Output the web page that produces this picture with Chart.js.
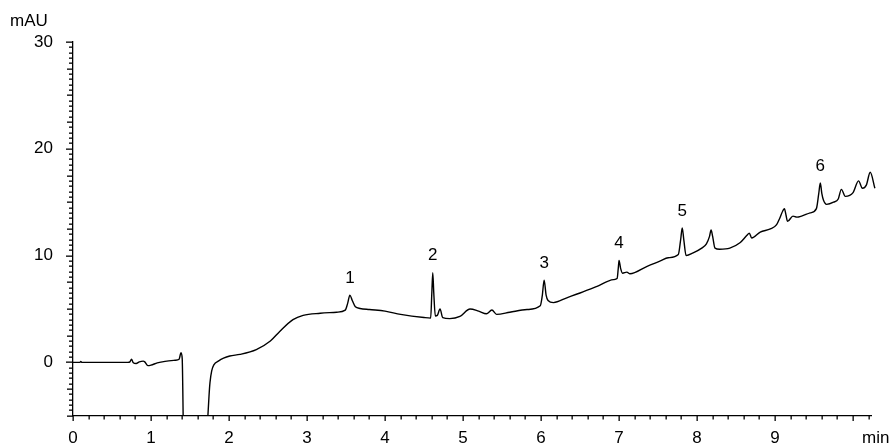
<!DOCTYPE html>
<html>
<head>
<meta charset="utf-8">
<script src="https://cdn.jsdelivr.net/npm/chart.js@4"></script>
<style>
  html, body { margin: 0; padding: 0; background: #fff; }
  #wrap { width: 893px; height: 446px; }
</style>
</head>
<body>
<div id="wrap"><canvas id="chromChart" width="893" height="446"></canvas></div>
<script>
// retention time (min) and absorbance (mAU)
const rt = [
  0, 0.09, 0.10, 0.115, 0.705, 0.73, 0.75, 0.77, 0.81, 0.85,
  0.90, 0.92, 0.96, 1.00, 1.08, 1.18, 1.31, 1.36, 1.385, 1.40,
  1.414, 1.5, 1.722, 1.744, 1.756, 1.778, 1.808, 1.863, 1.93, 2.01,
  2.14, 2.35, 2.53, 2.65, 2.82, 2.95, 3.17, 3.38, 3.49, 3.52,
  3.55, 3.58, 3.62, 3.68, 3.80, 4.0, 4.2, 4.5, 4.585, 4.60,
  4.612, 4.625, 4.645, 4.67, 4.705, 4.74, 4.83, 4.96, 5.09, 5.2,
  5.3, 5.37, 5.43, 5.6, 5.82, 5.99, 6.015, 6.04, 6.065, 6.09,
  6.16, 6.33, 6.5, 6.71, 6.93, 6.975, 6.99, 7.0, 7.02, 7.045,
  7.1, 7.14, 7.36, 7.53, 7.63, 7.76, 7.79, 7.81, 7.83, 7.86,
  7.95, 8.06, 8.12, 8.16, 8.18, 8.20, 8.23, 8.29, 8.42, 8.55,
  8.64, 8.67, 8.70, 8.81, 8.94, 9.02, 9.06, 9.10, 9.12, 9.14,
  9.16, 9.23, 9.28, 9.34, 9.45, 9.53, 9.56, 9.58, 9.60, 9.62,
  9.66, 9.75, 9.81, 9.85, 9.90, 10.0, 10.07, 10.12, 10.17, 10.22,
  10.28
];
const mAU = [
  0, 0, 0.08, 0, 0, 0.05, 0.3, 0.0, -0.1, 0.05,
  0.12, 0.05, -0.3, -0.25, -0.05, 0.1, 0.2, 0.3, 0.9, 0.35,
  -6, null, -6, -3.1, -1.9, -0.8, -0.2, 0.12, 0.4, 0.6,
  0.75, 1.2, 2.0, 2.9, 4.0, 4.4, 4.6, 4.7, 4.9, 5.5,
  6.3, 5.8, 5.2, 5.05, 4.95, 4.8, 4.5, 4.2, 4.15, 6.5,
  8.4, 6.5, 4.35, 4.4, 5.0, 4.2, 4.1, 4.3, 5.0, 4.8,
  4.55, 4.9, 4.5, 4.7, 4.95, 5.3, 6.2, 7.7, 6.3, 5.8,
  5.6, 6.05, 6.5, 7.1, 7.75, 7.85, 8.8, 9.55, 8.8, 8.35,
  8.45, 8.3, 9.0, 9.5, 9.8, 10.1, 11.5, 12.6, 11.5, 10.0,
  10.25, 10.7, 11.1, 11.8, 12.4, 11.8, 10.7, 10.6, 10.7, 11.2,
  11.9, 12.1, 11.65, 12.2, 12.5, 12.9, 13.5, 14.2, 14.4, 13.8,
  13.2, 13.7, 13.6, 13.7, 14.0, 14.4, 15.8, 16.8, 15.8, 15.2,
  14.8, 15.0, 15.3, 16.2, 15.55, 15.9, 17.0, 16.3, 16.6, 17.8,
  16.3
];
const peakTimes = [3.55, 4.612, 6.04, 7.0, 7.81, 9.58];
const peakNames = ["1", "2", "3", "4", "5", "6"];
const xTickValues = [0, 1, 2, 3, 4, 5, 6, 7, 8, 9];
const yTickValues = [0, 10, 20, 30];

const FONT = "'Liberation Sans', Arial, sans-serif";

const points = rt.map((t, i) => ({ x: t, y: mAU[i] }));

// minor tick marks + peak numbers + unit labels
const decorations = {
  id: "decorations",
  afterDraw(chart) {
    const ctx = chart.ctx;
    const xs = chart.scales.x;
    const ys = chart.scales.y;
    const left = Math.round(chart.chartArea.left);
    const bottom = Math.round(chart.chartArea.bottom);
    ctx.save();
    ctx.fillStyle = "#000";
    for (let k = -10; k <= 60; k++) {
      const py = Math.round(ys.getPixelForValue(k * 0.5));
      const len = k % 20 === 0 ? 7 : (k % 5 === 0 ? 6 : 4);
      ctx.fillRect(left - len, py - 0.5, len, 1.3);
    }
    for (let k = 0; k <= 51; k++) {
      const px = Math.round(xs.getPixelForValue(k * 0.2));
      const len = k % 5 === 0 ? 5 : 3.5;
      ctx.fillRect(px - 0.5, bottom, 1.3, len);
    }

    ctx.font = "17px " + FONT;
    ctx.textAlign = "center";
    ctx.textBaseline = "middle";
    peakTimes.forEach((t, i) => {
      const idx = rt.indexOf(t);
      const px = xs.getPixelForValue(t);
      const py = ys.getPixelForValue(mAU[idx]) - 17;
      ctx.fillText(peakNames[i], px, py);
    });

    ctx.textAlign = "left";
    ctx.fillText("mAU", 10, 21);
    ctx.fillText("min", 862, 438);
    ctx.restore();
  }
};

const ctx = document.getElementById("chromChart").getContext("2d");
const chart = new Chart(ctx, {
  type: "line",
  data: {
    datasets: [
      {
        label: "UV",
        data: points,
        borderColor: "#000",
        borderWidth: 1.4,
        pointRadius: 0,
        cubicInterpolationMode: "monotone",
        spanGaps: false,
        clip: { left: 0, top: 0, right: 6, bottom: 0 },
      },
    ],
  },
  options: {
    responsive: false,
    animation: false,
    layout: { padding: { top: 42, right: 22, left: 0, bottom: 0 } },
    plugins: {
      legend: { display: false },
      tooltip: { enabled: false },
    },
    scales: {
      x: {
        type: "linear",
        min: 0,
        max: 10.23,
        grid: { display: false, drawTicks: false },
        border: { display: true, color: "#000", width: 1.3 },
        afterBuildTicks: (s) => { s.ticks = xTickValues.map((v) => ({ value: v })); },
        afterFit: (s) => { s.height = 29.5; },
        ticks: {
          color: "#000",
          padding: 12,
          maxRotation: 0,
          autoSkip: false,
          font: { family: FONT, size: 17 },
        },
      },
      y: {
        type: "linear",
        min: -5,
        max: 30,
        grid: { display: false, drawTicks: false },
        border: { display: true, color: "#000", width: 1.3 },
        afterBuildTicks: (s) => { s.ticks = yTickValues.map((v) => ({ value: v })); },
        afterFit: (s) => { s.width = 73; },
        ticks: {
          color: "#000",
          padding: 20,
          font: { family: FONT, size: 17 },
        },
      },
    },
  },
  plugins: [decorations],
});
</script>
</body>
</html>
